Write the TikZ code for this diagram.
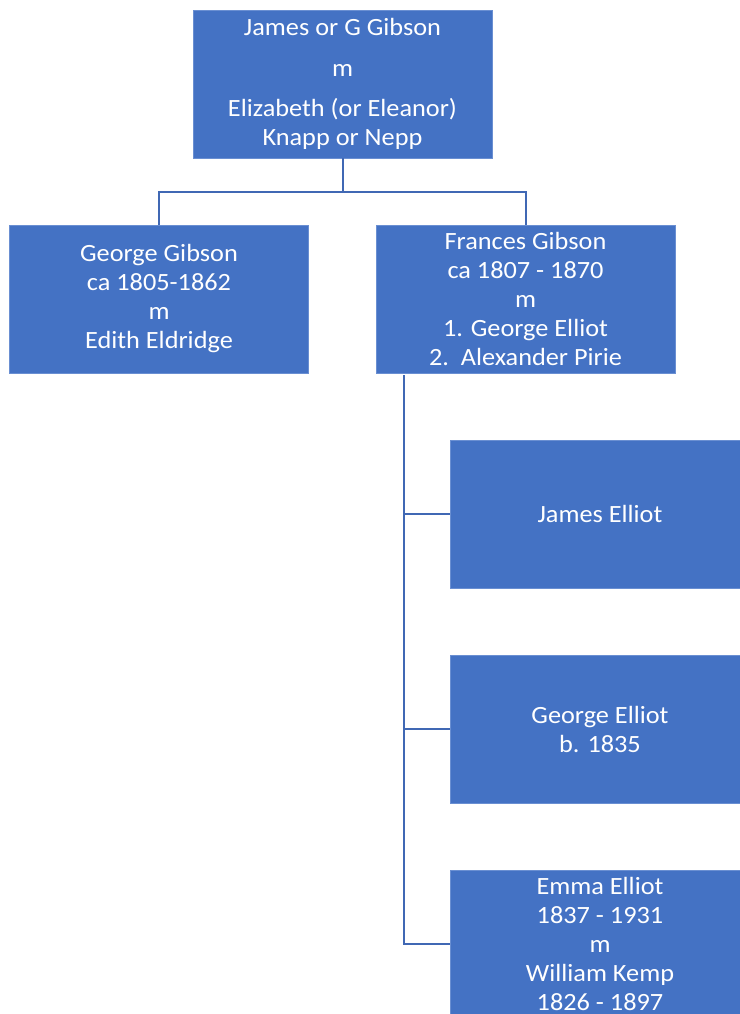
\documentclass[tikz,border=0pt]{standalone}
\usepackage{fontspec}
\setmainfont[FakeStretch=1.06]{Carlito}
\definecolor{boxblue}{HTML}{4472C4}
\definecolor{edgeblue}{HTML}{6A8FD2}
\definecolor{lineblue}{HTML}{4068B4}
\begin{document}
\begin{tikzpicture}[x=1pt,y=-1pt,
  person/.style={rectangle, fill=boxblue, draw=edgeblue, line width=0.8pt,
    text=white, align=center, minimum width=299pt, minimum height=148pt,
    inner sep=0pt, font=\fontsize{24.8}{29}\selectfont},
  link/.style={draw=lineblue, line width=2pt}]
\useasboundingbox (0,0) rectangle (739,1014);
\node[person] (top) at (342.5,84) {James or G Gibson\\[12pt] m\\[11pt] Elizabeth (or Eleanor)\\ Knapp or Nepp};
\node[person] (george) at (159,299) {George Gibson\\ ca 1805-1862\\ m\\ Edith Eldridge};
\node[person] (frances) at (525.5,299) {Frances Gibson\\ ca 1807 - 1870\\ m\\ 1. George Elliot\\ 2.\ \ Alexander Pirie};
\node[person] (james) at (600,514) {James Elliot};
\node[person] (georgee) at (600,729) {George Elliot\\ b. 1835};
\node[person] (emma) at (600,944) {Emma Elliot\\ 1837 - 1931\\ m\\ William Kemp\\ 1826 - 1897};
\coordinate (split) at (342.5,192);
\coordinate (trunk) at (404,375);
\draw[link] (top.south) -- (split);
\draw[link] (split) -| (george.north);
\draw[link] (split) -| (frances.north);
\draw[link] (trunk) |- (emma.west);
\draw[link] (trunk |- james.west) -- (james.west);
\draw[link] (trunk |- georgee.west) -- (georgee.west);
\end{tikzpicture}
\end{document}
